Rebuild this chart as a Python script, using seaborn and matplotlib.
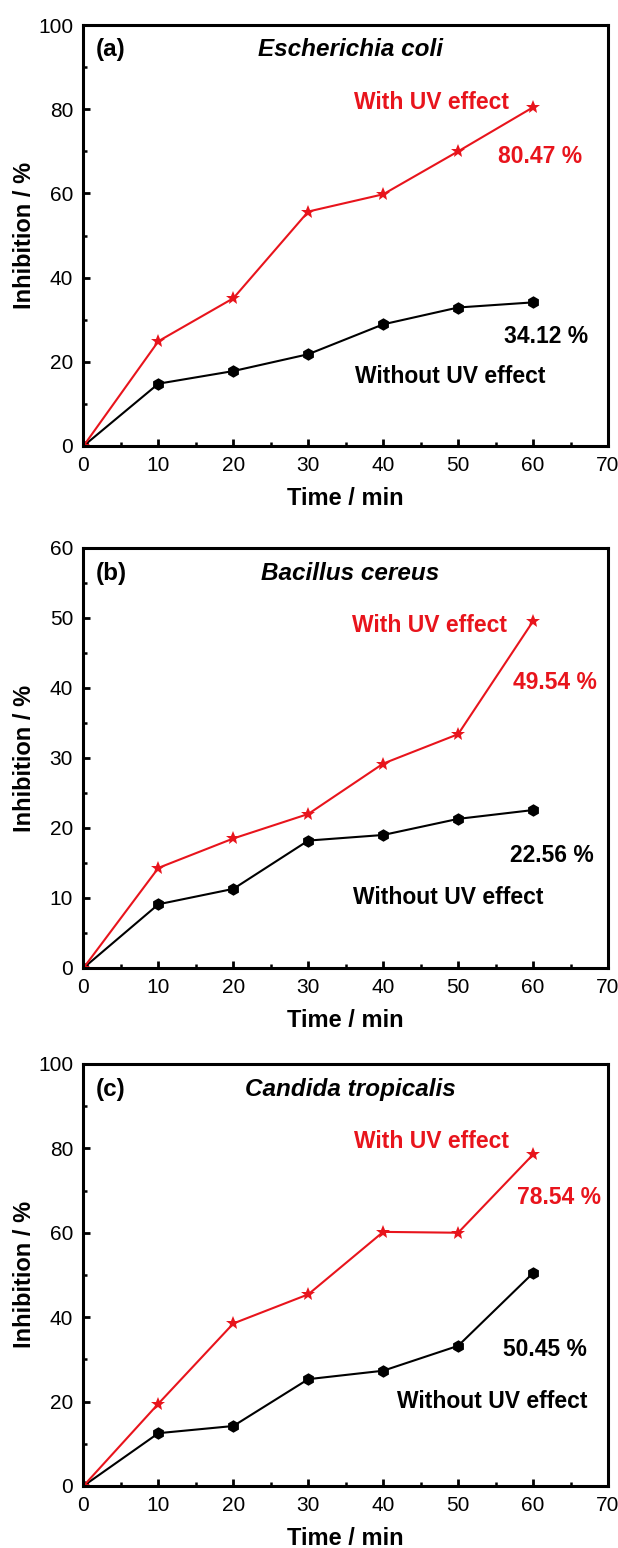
import matplotlib
matplotlib.use("Agg")
import matplotlib.pyplot as plt
from matplotlib.ticker import MultipleLocator
import seaborn as sns

# ===== DATA =====
TIME = [0, 10, 20, 30, 40, 50, 60]

ECOLI_UV = [0, 24.9, 35.1, 55.7, 59.8, 70.0, 80.47]
ECOLI_DARK = [0, 14.8, 17.8, 21.8, 28.9, 32.9, 34.12]

BACILLUS_UV = [0, 14.3, 18.5, 22.0, 29.2, 33.4, 49.54]
BACILLUS_DARK = [0, 9.1, 11.3, 18.2, 19.0, 21.3, 22.56]

CANDIDA_UV = [0, 19.5, 38.5, 45.4, 60.2, 60.0, 78.54]
CANDIDA_DARK = [0, 12.5, 14.2, 25.3, 27.3, 33.2, 50.45]

PANEL_TAGS = ["(a)", "(b)", "(c)"]
SPECIES = ["Escherichia coli", "Bacillus cereus", "Candida tropicalis"]
Y_MAX = [100, 60, 100]
UV_LABEL = "With UV effect"
DARK_LABEL = "Without UV effect"

sns.set_theme(style="ticks")
plt.rcParams["font.family"] = ["Liberation Sans", "DejaVu Sans"]
plt.rcParams["axes.linewidth"] = 2.2
for key in ["text.color", "axes.labelcolor", "xtick.color", "ytick.color",
            "xtick.labelcolor", "ytick.labelcolor", "axes.edgecolor"]:
    plt.rcParams[key] = "black"

RED = "#e8141c"

fig = plt.figure(figsize=(6.18, 15.48), dpi=100)

# axes boxes in figure fractions (left, bottom, width, height)
boxes = [
    (0.1351, 0.7119, 0.8487, 0.2719),
    (0.1351, 0.3747, 0.8487, 0.2713),
    (0.1351, 0.0401, 0.8487, 0.2726),
]

series = [
    (ECOLI_UV, ECOLI_DARK),
    (BACILLUS_UV, BACILLUS_DARK),
    (CANDIDA_UV, CANDIDA_DARK),
]

# annotation positions (data coords) per panel
ann = [
    dict(uv=(46.4, 81.6), uvp=(60.9, 68.7), dk=(48.9, 16.4), dkp=(61.7, 25.9), tag_y=94.2),
    dict(uv=(46.2, 48.9), uvp=(62.9, 40.8), dk=(48.7, 10.0), dkp=(62.5, 16.0), tag_y=56.4),
    dict(uv=(46.4, 81.7), uvp=(63.4, 68.3), dk=(54.6, 20.1), dkp=(61.6, 32.4), tag_y=94.0),
]

for i, box in enumerate(boxes):
    ax = fig.add_axes(box)
    uv, dark = series[i]

    sns.lineplot(x=TIME, y=dark, ax=ax, color="black", linewidth=1.5,
                 marker="h", markersize=9, markeredgewidth=0)
    sns.lineplot(x=TIME, y=uv, ax=ax, color=RED, linewidth=1.5,
                 marker="*", markersize=10, markeredgewidth=0)

    ax.set_xlim(0, 70)
    ax.set_ylim(0, Y_MAX[i])
    ax.xaxis.set_major_locator(MultipleLocator(10))
    ax.xaxis.set_minor_locator(MultipleLocator(5))
    ax.yaxis.set_major_locator(MultipleLocator(20 if Y_MAX[i] == 100 else 10))
    ax.yaxis.set_minor_locator(MultipleLocator(10 if Y_MAX[i] == 100 else 5))
    ax.tick_params(which="major", direction="in", length=5, width=2,
                   labelsize=15, pad=7.5, top=False, right=False, colors="black")
    ax.tick_params(which="minor", direction="in", length=3, width=1.8,
                   top=False, right=False, colors="black")
    for sp in ax.spines.values():
        sp.set_visible(True)
        sp.set_color("black")
    ax.grid(False)

    ax.set_xlabel("Time / min", fontsize=17, fontweight="bold", color="black")
    ax.set_ylabel("Inhibition / %", fontsize=17, fontweight="bold", color="black")
    ax.xaxis.set_label_coords(0.5, -0.098)
    ax.yaxis.set_label_coords(-0.09, 0.5)

    a = ann[i]
    ax.text(1.7, a["tag_y"], PANEL_TAGS[i], fontsize=17.5, fontweight="bold",
            color="black", ha="left", va="center")
    ax.text(35.6, a["tag_y"], SPECIES[i], fontsize=17.5, fontweight="bold",
            style="italic", color="black", ha="center", va="center")
    ax.text(*a["uv"], UV_LABEL, color=RED, fontsize=16.5, fontweight="bold",
            ha="center", va="center")
    ax.text(*a["uvp"], f"{uv[-1]:.2f} %", color=RED, fontsize=16.5,
            fontweight="bold", ha="center", va="center")
    ax.text(*a["dk"], DARK_LABEL, color="black", fontsize=16.5,
            fontweight="bold", ha="center", va="center")
    ax.text(*a["dkp"], f"{dark[-1]:.2f} %", color="black", fontsize=16.5,
            fontweight="bold", ha="center", va="center")

fig.savefig("out.png", dpi=100)
